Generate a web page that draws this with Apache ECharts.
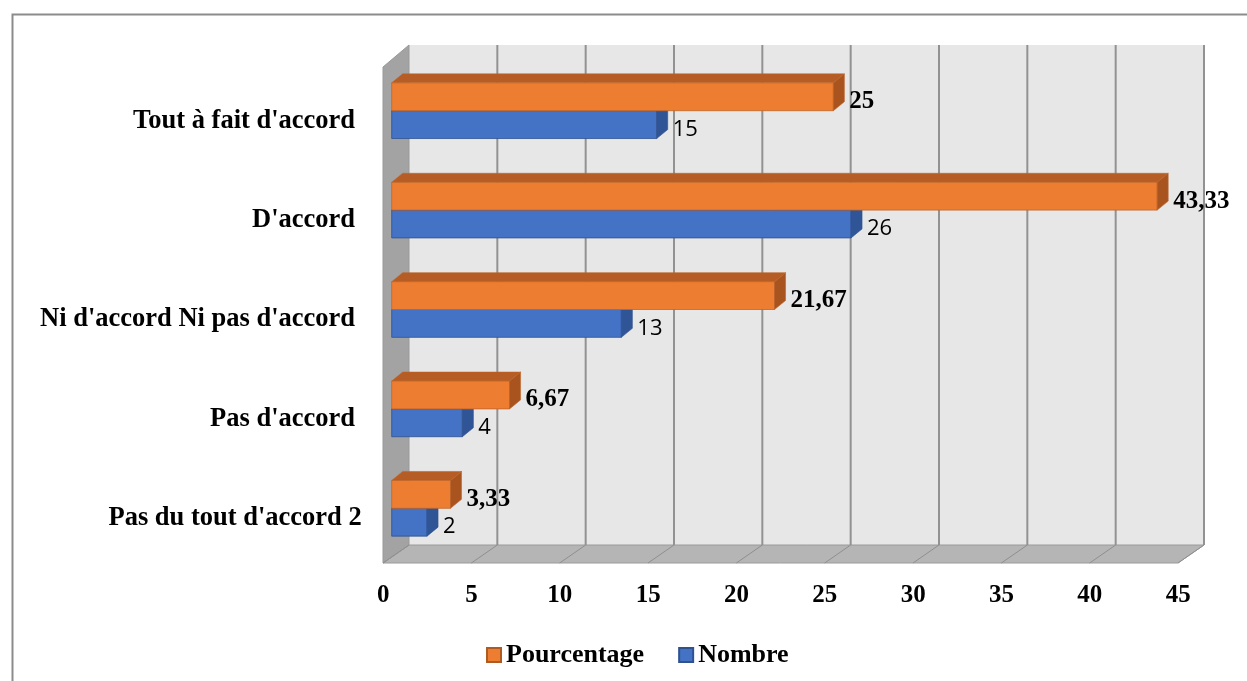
<!DOCTYPE html>
<html>
<head>
<meta charset="utf-8">
<style>
  html, body { margin: 0; padding: 0; background: #ffffff; }
  #chart { width: 1247px; height: 681px; }
</style>
<script src="https://cdn.jsdelivr.net/npm/echarts@6/dist/echarts.min.js"></script>
</head>
<body>
<div id="chart"></div>
<script>
// Survey answers, top to bottom
const categories = [
  "Tout à fait d'accord ",
  "D'accord ",
  "Ni d'accord Ni pas d'accord ",
  "Pas d'accord ",
  "Pas du tout d'accord 2"
];
const pourcentage = [25, 43.33, 21.67, 6.67, 3.33];
const nombre = [15, 26, 13, 4, 2];
const xTicks = [0, 5, 10, 15, 20, 25, 30, 35, 40, 45];

const SERIF = "'Liberation Serif', 'Times New Roman', serif";

// Perspective offsets of the box relative to the bar plane
const BACK = { dx: 17.3, top: -16, bottom: -13 };
const FRONT = { dx: -8.7, top: 6, bottom: 5 };
const DEPTH = [11, -9]; // bar thickness in depth

const fmt = v => String(v).replace('.', ',');

function renderFrame(params, api) {
  const cs = params.coordSys;
  const y0 = cs.y, y1 = cs.y + cs.height;
  const xv = t => api.coord([t, 0])[0];
  const first = xTicks[0], last = xTicks[xTicks.length - 1];
  const bx0 = xv(first) + BACK.dx, bx1 = xv(last) + BACK.dx;
  const fx0 = xv(first) + FRONT.dx, fx1 = xv(last) + FRONT.dx;
  const byT = y0 + BACK.top, byB = y1 + BACK.bottom;
  const fyT = y0 + FRONT.top, fyB = y1 + FRONT.bottom;
  const children = [];
  // back wall
  children.push({ type: 'rect', shape: { x: bx0, y: byT, width: bx1 - bx0, height: byB - byT },
    style: { fill: '#e7e7e7' } });
  // floor
  children.push({ type: 'polygon', shape: { points: [[fx0, fyB], [bx0, byB], [bx1, byB], [fx1, fyB]] },
    style: { fill: '#b5b5b5', stroke: '#9a9a9a', lineWidth: 1 } });
  // left wall
  children.push({ type: 'polygon', shape: { points: [[fx0, fyT], [bx0, byT], [bx0, byB], [fx0, fyB]] },
    style: { fill: '#a3a3a3', stroke: '#999999', lineWidth: 1 } });
  // grid lines on the back wall and floor
  xTicks.forEach(t => {
    const xb = xv(t) + BACK.dx, xf = xv(t) + FRONT.dx;
    if (t !== first) {
      children.push({ type: 'line', shape: { x1: xb, y1: byT, x2: xb, y2: byB },
        style: { stroke: '#929292', lineWidth: 2 } });
    }
    children.push({ type: 'line', shape: { x1: xb, y1: byB, x2: xf, y2: fyB },
      style: { stroke: '#8f8f8f', lineWidth: 1 } });
  });
  return { type: 'group', children };
}

function makeBarRenderer(pos, colors, labelFont, labelDy) {
  return function (params, api) {
    const v = api.value(0), ci = api.value(1);
    const band = api.size([0, 1])[1];
    const h = band * 0.28;
    const c = api.coord([v, ci]);
    const xs = api.coord([0, ci])[0];
    const xe = c[0];
    const yt = pos === 'upper' ? c[1] - h : c[1];
    const yb = yt + h;
    const [dx, dy] = DEPTH;
    return {
      type: 'group',
      children: [
        { type: 'polygon', shape: { points: [[xs, yt], [xs + dx, yt + dy], [xe + dx, yt + dy], [xe, yt]] },
          style: { fill: colors.top, stroke: colors.edge, lineWidth: 0.6 } },
        { type: 'rect', shape: { x: xs, y: yt, width: xe - xs, height: h },
          style: { fill: colors.front, stroke: colors.edge, lineWidth: 0.8 } },
        { type: 'polygon', shape: { points: [[xe, yt], [xe + dx, yt + dy], [xe + dx, yb + dy], [xe, yb]] },
          style: { fill: colors.side, stroke: colors.edge, lineWidth: 0.6 } },
        { type: 'text', x: xe + 16, y: (yt + yb) / 2 + labelDy,
          style: { text: fmt(v), font: labelFont, fill: '#000000', verticalAlign: 'middle', align: 'left' } }
      ]
    };
  };
}

const chart = echarts.init(document.getElementById('chart'), null, { renderer: 'canvas' });

chart.setOption({
  animation: false,
  backgroundColor: '#ffffff',
  graphic: [{
    type: 'rect', left: 10, top: 12, silent: true,
    shape: { x: 0, y: 0, width: 1260, height: 700 },
    style: { fill: 'none', stroke: '#8c8c8c', lineWidth: 2 }
  }],
  grid: { left: 391.7, top: 61, width: 795, height: 497 },
  xAxis: {
    type: 'value', min: xTicks[0], max: xTicks[xTicks.length - 1], interval: 5,
    axisLine: { show: false }, axisTick: { show: false }, splitLine: { show: false },
    axisLabel: { margin: 25, padding: [0, 17, 0, 0], color: '#000000',
      fontFamily: SERIF, fontWeight: 'bold', fontSize: 25 }
  },
  yAxis: {
    type: 'category', data: categories, inverse: true,
    axisLine: { show: false }, axisTick: { show: false }, splitLine: { show: false },
    axisLabel: { margin: 30, verticalAlign: 'top', lineHeight: 20, color: '#000000',
      fontFamily: SERIF, fontWeight: 'bold', fontSize: 26.5 }
  },
  legend: {
    data: [{ name: 'Pourcentage', icon: 'rect' }, { name: 'Nombre', icon: 'rect' }],
    left: 481, top: 637, itemWidth: 14, itemHeight: 14, itemGap: 34,
    textStyle: { fontFamily: SERIF, fontWeight: 'bold', fontSize: 26, color: '#000000' }
  },
  series: [
    {
      type: 'custom', name: 'frame', z: 1, silent: true,
      data: [[0, 0]], encode: { x: 0, y: 1 },
      renderItem: renderFrame
    },
    {
      type: 'custom', name: 'Nombre', z: 2,
      itemStyle: { color: '#4472c4', borderColor: '#2f528f', borderWidth: 1 },
      data: nombre.map((v, i) => [v, i]), encode: { x: 0, y: 1 },
      renderItem: makeBarRenderer('lower',
        { front: '#4472c4', top: '#3a63ad', side: '#2f5597', edge: '#2f528f' },
        "22px 'Open Sans', 'Noto Sans', sans-serif", 5)
    },
    {
      type: 'custom', name: 'Pourcentage', z: 3,
      itemStyle: { color: '#ed7d31', borderColor: '#ae5a21', borderWidth: 1 },
      data: pourcentage.map((v, i) => [v, i]), encode: { x: 0, y: 1 },
      renderItem: makeBarRenderer('upper',
        { front: '#ed7d31', top: '#b55d24', side: '#a9541f', edge: '#c0652a' },
        "bold 25px 'Liberation Serif', 'Times New Roman', serif", 5)
    }
  ]
});
</script>
</body>
</html>
